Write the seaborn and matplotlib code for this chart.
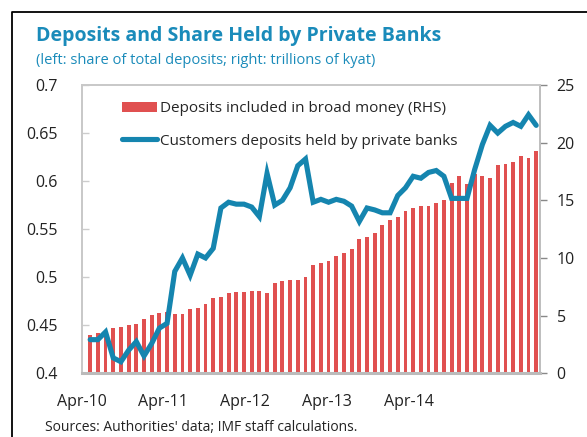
import numpy as np
import pandas as pd
import matplotlib
matplotlib.use("Agg")
import matplotlib.pyplot as plt
import seaborn as sns
from matplotlib.lines import Line2D
from matplotlib.patches import Patch

# monthly categories, Apr-10 .. Feb-15
months = pd.date_range("2010-04-01", periods=59, freq="MS").strftime("%b-%y").tolist()

# deposits included in broad money, trillions of kyat (RHS)
deposits = [3.32, 3.52, 3.65, 3.90, 3.99, 4.19, 4.30, 4.68, 5.03, 5.20,
            5.34, 5.14, 5.14, 5.57, 5.69, 6.03, 6.50, 6.61, 6.96, 7.07,
            7.07, 7.16, 7.16, 6.96, 7.80, 7.98, 8.12, 8.12, 8.35, 9.39,
            9.54, 9.74, 10.20, 10.43, 10.75, 11.67, 11.79, 12.14, 12.85, 13.29,
            13.52, 14.10, 14.32, 14.55, 14.55, 14.79, 15.02, 16.52, 17.10, 16.41,
            17.30, 17.10, 16.96, 18.03, 18.12, 18.35, 18.87, 18.69, 19.27]

# share of total deposits held by private banks (LHS)
share = [0.435, 0.435, 0.443, 0.416, 0.412, 0.424, 0.433, 0.418, 0.431, 0.447,
         0.452, 0.506, 0.520, 0.502, 0.524, 0.520, 0.530, 0.572, 0.578, 0.576,
         0.576, 0.573, 0.563, 0.608, 0.575, 0.580, 0.593, 0.616, 0.623, 0.578,
         0.581, 0.578, 0.581, 0.579, 0.574, 0.558, 0.572, 0.570, 0.567, 0.567,
         0.585, 0.593, 0.605, 0.603, 0.609, 0.611, 0.605, 0.582, 0.582, 0.582,
         0.612, 0.638, 0.658, 0.650, 0.657, 0.661, 0.657, 0.669, 0.658]

xlabels = ["Apr-10", "Apr-11", "Apr-12", "Apr-13", "Apr-14"]
xlabel_pos = [-1.1, 9.45, 20.1, 30.8, 41.5]

blue = "#1585AF"
red = "#E05050"
title_blue = "#1A8BBA"

sns.set_style("white")
plt.rcParams["font.family"] = ["Open Sans", "DejaVu Sans"]

df = pd.DataFrame({"pos": np.arange(len(months)), "month": months,
                   "deposits": deposits, "share": share})

fig = plt.figure(figsize=(5.87, 4.37), dpi=100)
ax = fig.add_axes([0.1392, 0.1458, 0.7808, 0.6597])
ax2 = ax.twinx()

sns.barplot(data=df, x="pos", y="deposits", ax=ax2, color=red, width=0.5,
            saturation=1, linewidth=0)
sns.lineplot(data=df, x="pos", y="share", ax=ax, color=blue, linewidth=3.7,
             solid_joinstyle="miter")

# line on top of the bars
ax.set_zorder(ax2.get_zorder() + 1)
ax.patch.set_visible(False)

ax.set_xlim(-0.5, len(months) - 0.5)
ax.set_ylim(0.4, 0.7)
ax2.set_ylim(0, 25)
ax.set_yticks([0.4, 0.45, 0.5, 0.55, 0.6, 0.65, 0.7])
ax.set_yticklabels(["0.4", "0.45", "0.5", "0.55", "0.6", "0.65", "0.7"])
ax2.set_yticks([0, 5, 10, 15, 20, 25])

ax.set_xticks(xlabel_pos)
ax.set_xticklabels(xlabels)
ax.set_xticks([11.5, 23.5, 35.5, 47.5], minor=True)
ax.set_xlabel("")
ax.set_ylabel("")
ax2.set_xlabel("")
ax2.set_ylabel("")

ax.tick_params(axis="x", which="major", length=0, pad=15, labelsize=11.5, colors="#222222")
ax.tick_params(axis="x", which="minor", direction="in", length=4, width=1, color="#BBBBBB")
ax.tick_params(axis="y", direction="in", length=5, width=1, color="#CCCCCC",
               labelsize=11.5, labelcolor="#222222", pad=17)
ax2.tick_params(axis="y", direction="out", length=5, width=1, color="#888888",
                labelsize=11.5, labelcolor="#222222", pad=7)
ax2.tick_params(axis="x", which="both", length=0, labelbottom=False)

for a in (ax, ax2):
    for s in a.spines.values():
        s.set_visible(True)
        s.set_color("#C8C8C8")
        s.set_linewidth(1.2)
ax.spines["bottom"].set_linewidth(2.2)
ax.spines["bottom"].set_color("#BBBBBB")
ax2.spines["right"].set_color("#888888")
ax2.spines["right"].set_linewidth(1.3)

handles = [Patch(facecolor=red, edgecolor="none"),
           Line2D([0], [0], color=blue, linewidth=3.7)]
labels = ["Deposits included in broad money (RHS)",
          "Customers deposits held by private banks"]
ax.legend(handles, labels, loc="upper left", bbox_to_anchor=(0.075, 0.965),
          frameon=False, fontsize=11, handlelength=2.3, handletextpad=0.15,
          labelspacing=1.15, borderaxespad=0)

fig.text(36 / 587, 1 - 36 / 437, "Deposits and Share Held by Private Banks",
         color=title_blue, fontsize=14, fontweight="bold", va="center", ha="left")
fig.text(36 / 587, 1 - 61 / 437,
         "(left: share of total deposits; right: trillions of kyat)",
         color=title_blue, fontsize=10.5, va="center", ha="left")
fig.text(45 / 587, 1 - 420 / 437,
         "Sources: Authorities' data; IMF staff calculations.",
         color="#222222", fontsize=10, va="top", ha="left")

# outer box edge of the panel
fig.add_artist(Line2D([12 / 587, 12 / 587, 1.01], [-0.01, 1 - 12 / 437, 1 - 12 / 437],
                      transform=fig.transFigure, color="black", linewidth=1.3))

fig.savefig("out.png", dpi=100)
